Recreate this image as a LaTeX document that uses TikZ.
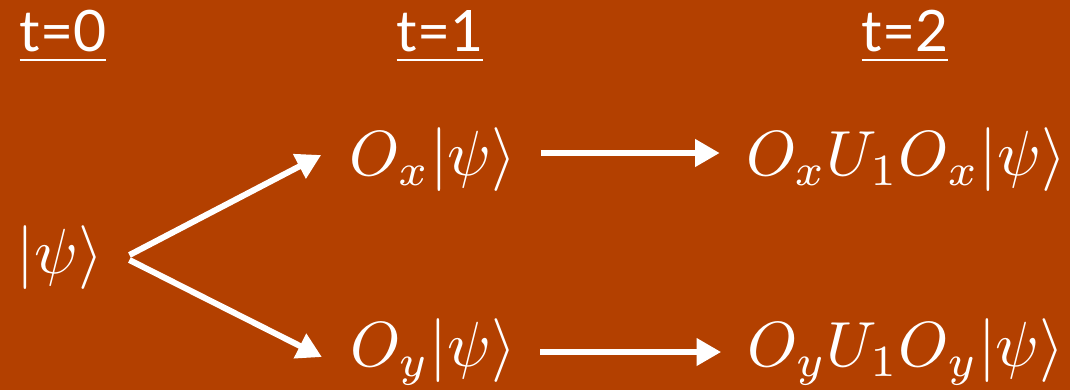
\documentclass[tikz,border=0pt]{standalone}
\usepackage{amsmath}
\usepackage{fontspec}
\newfontfamily\headfont{Lato}
\usetikzlibrary{arrows.meta}
\definecolor{rust}{RGB}{179,64,0}
\tikzset{
  state/.style={inner sep=0pt,text=white,scale=3.63},
  stamp/.style={inner sep=0pt,text=white,font=\headfont,scale=3.25},
  arr/.style={white,line width=3.4pt,-{Triangle[length=14pt,width=15pt]}}
}
\begin{document}
\begin{tikzpicture}[x=0.02cm,y=-0.02cm]
\fill[rust] (0,0) rectangle (1070,390);
\useasboundingbox (0,0) rectangle (1070,390);
% time stamps
\node[stamp] (t0) at (63,37) {\underline{t=0}};
\node[stamp] (t1) at (440,37) {\underline{t=1}};
\node[stamp] (t2) at (905,37) {\underline{t=2}};
% states
\node[state] (psi) at (60,258) {$|\psi\rangle$};
\node[state] (ox) at (433,160) {$O_x|\psi\rangle$};
\node[state] (oy) at (433,352) {$O_y|\psi\rangle$};
\node[state] (oxu) at (906,160) {$O_xU_1O_x|\psi\rangle$};
\node[state] (oyu) at (906,352) {$O_yU_1O_y|\psi\rangle$};
% branches
\draw[arr] ([shift={(25,-3)}]psi.east) -- ([shift={(-27,-5)}]ox.west);
\draw[arr] ([shift={(25,2)}]psi.east) -- ([shift={(-27,5)}]oy.west);
\draw[arr] ([shift={(23,-7)}]ox.east) -- ([shift={(-25,-7)}]oxu.west);
\draw[arr] ([shift={(23,0)}]oy.east) -- ([shift={(-25,0)}]oyu.west);
\end{tikzpicture}
\end{document}
